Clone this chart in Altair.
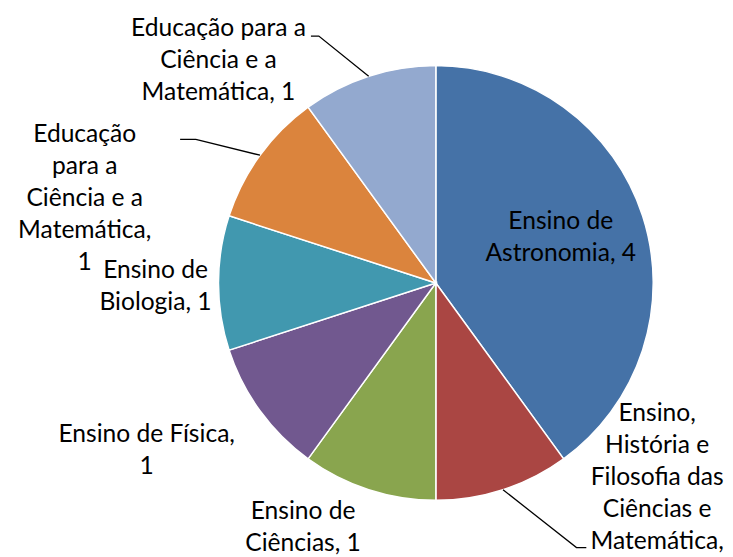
import math
import altair as alt
import pandas as pd

# ---- data ----
categories = [
    "Ensino de Astronomia",
    "Ensino, História e Filosofia das Ciências e Matemática",
    "Ensino de Ciências",
    "Ensino de Física",
    "Ensino de Biologia",
    "Educação para a Ciência e a Matemática",
    "Educação para a Ciência e a Matemática",
]
values = [4, 1, 1, 1, 1, 1, 1]
colors = ["#4572A7", "#AA4643", "#89A54E", "#71588F", "#4198AF", "#DB843D", "#93A9CF"]

# ---- layout (label wrapping and placement of first line, pixels relative to pie centre) ----
wrapped = [
    "Ensino de\nAstronomia, 4",
    "Ensino,\nHistória e\nFilosofia das\nCiências e\nMatemática,\n1",
    "Ensino de\nCiências, 1",
    "Ensino de Física,\n1",
    "Ensino de\nBiologia, 1",
    "Educação\npara a\nCiência e a\nMatemática,\n1",
    "Educação para a\nCiência e a\nMatemática, 1",
]
label_pos = [(127, -63), (225, 132), (-135, 232), (-294, 154), (-285, -13), (-357, -151), (-221, -259)]
# leader lines: slice index -> [elbow, end]
leaders = {1: [(143, 269), (153, 269)], 5: [(-244, -146), (-260, -146)], 6: [(-119, -251), (-127, -251)]}

R = 221
W, H = 729, 549
CX, CY = 435, 275

pie = pd.DataFrame({"idx": range(len(values)), "cat": [f"{i}:{c}" for i, c in enumerate(categories)],
                    "value": values, "color": colors})

total = sum(values)
cum = 0
mids = []
for v in values:
    mids.append((cum + v / 2) / total * 2 * math.pi)
    cum += v

labels = pd.DataFrame({
    "text": wrapped,
    "x": [p[0] for p in label_pos],
    "y": [p[1] for p in label_pos],
})

rows = []
for i, pts in leaders.items():
    a = mids[i]
    start = (R * math.sin(a), -R * math.cos(a))
    for k, (px, py) in enumerate([start] + pts):
        rows.append({"id": i, "k": k, "x": px, "y": py})
lines = pd.DataFrame(rows)

xs = alt.Scale(domain=[-CX, W - CX])
ys = alt.Scale(domain=[-CY, H - CY], reverse=True)

arcs = alt.Chart(pie).mark_arc(radius=R, stroke="white", strokeWidth=1.5).encode(
    theta=alt.Theta("value:Q", stack=True),
    order=alt.Order("idx:Q"),
    color=alt.Color("color:N", scale=None),
    x=alt.datum(0, scale=xs, axis=None),
    y=alt.datum(0, scale=ys, axis=None),
)

lead = alt.Chart(lines).mark_line(color="black", strokeWidth=1.3).encode(
    x=alt.X("x:Q", scale=xs, axis=None),
    y=alt.Y("y:Q", scale=ys, axis=None),
    detail="id:N",
    order="k:Q",
)

text = alt.Chart(labels).mark_text(
    font="Lato", fontSize=25, lineBreak="\n", lineHeight=32.5,
    align="center", baseline="middle", color="black",
).encode(
    x=alt.X("x:Q", scale=xs, axis=None),
    y=alt.Y("y:Q", scale=ys, axis=None),
    text="text:N",
)

chart = alt.layer(arcs, lead, text).properties(
    width=W, height=H, padding=0, autosize=alt.AutoSizeParams(type="none")
).configure_view(strokeWidth=0)
chart.save("out.html", embed_options={"renderer": "svg", "actions": False})
